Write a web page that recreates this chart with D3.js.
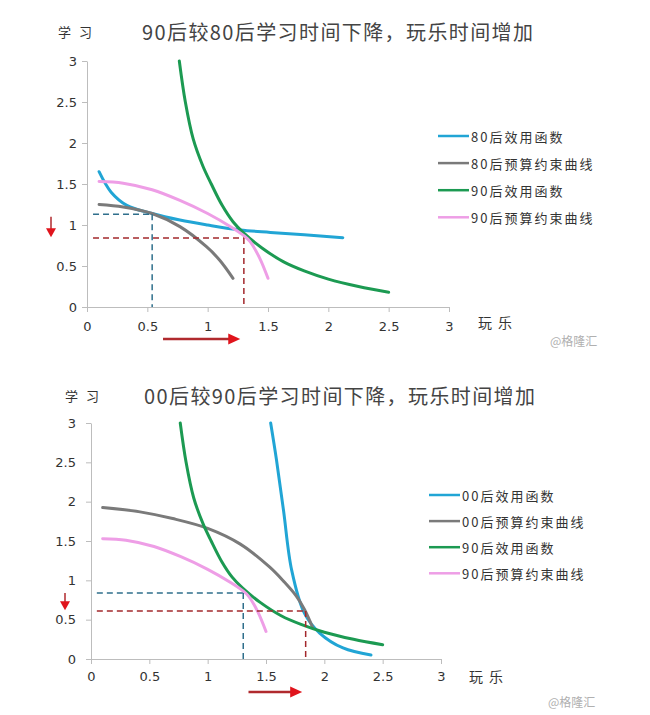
<!DOCTYPE html>
<html><head><meta charset="utf-8">
<script src="https://cdn.jsdelivr.net/npm/d3@7"></script>
<style>body{margin:0;background:#fff;} svg{display:block;}</style>
</head><body><svg id="c" width="650" height="715"></svg>
<script>
// ---------- data ----------
const xTicks = [0, 0.5, 1, 1.5, 2, 2.5, 3];
const yTicks = [0, 0.5, 1, 1.5, 2, 2.5, 3];
const titles = ["90后较80后学习时间下降，玩乐时间增加", "00后较90后学习时间下降，玩乐时间增加"];
const yLabel = "学习";
const xLabel = "玩乐";
const watermark = "@格隆汇";
const legend1 = ["80后效用函数", "80后预算约束曲线", "90后效用函数", "90后预算约束曲线"];
const legend2 = ["00后效用函数", "00后预算约束曲线", "90后效用函数", "90后预算约束曲线"];

const utility80 = [[0.1,1.65],[0.2,1.4],[0.33,1.24],[0.54,1.14],[0.77,1.06],[1.0,1.0],[1.27,0.94],[1.52,0.91],[1.8,0.88],[2.12,0.845]];
const budget80  = [[0.1,1.25],[0.3,1.22],[0.54,1.14],[0.77,0.98],[0.99,0.735],[1.1,0.57],[1.21,0.35]];
const utility90 = [[0.765,3.0],[0.815,2.5],[0.88,2.05],[0.96,1.72],[1.03,1.5],[1.12,1.24],[1.21,1.04],[1.3,0.9],[1.45,0.72],[1.63,0.55],[1.8,0.44],[2.0,0.34],[2.25,0.25],[2.5,0.18]];
const budget90  = [[0.1,1.53],[0.3,1.51],[0.54,1.43],[0.77,1.3],[1.0,1.14],[1.2,0.97],[1.3,0.87],[1.35,0.8],[1.43,0.6],[1.5,0.35]];
const utility00 = [[1.54,3.0],[1.59,2.53],[1.65,1.89],[1.72,1.13],[1.83,0.58],[1.96,0.33],[2.16,0.14],[2.4,0.05]];
const budget00  = [[0.1,1.925],[0.42,1.87],[0.7,1.785],[1.0,1.66],[1.28,1.46],[1.53,1.17],[1.65,0.99],[1.76,0.8],[1.83,0.63],[1.9,0.4]];

const guides1 = [{x:0.54, y:1.13}, {x:1.30, y:0.84}];
const guides2 = [{x:1.305, y:0.84}, {x:1.84, y:0.61}];
const shiftX1 = [0.63, 1.27], shiftY1 = [1.10, 0.85];
const shiftX2 = [1.35, 1.81], shiftY2 = [0.84, 0.62];

// ---------- styles ----------
const colors = ["#21a5d5", "#7a7a7a", "#1c9a52", "#ee9ee6"];
const guideColors = ["#2f6f8c", "#a3282c"];
const svg = d3.select("#c");
const cjk = "'Noto Sans CJK SC', 'Noto Sans', sans-serif";

function drawChart(cfg) {
  const x = d3.scaleLinear().domain([0, 3]).range(cfg.xr);
  const y = d3.scaleLinear().domain([0, 3]).range(cfg.yr);
  const g = svg.append("g");

  g.append("text").attr("x", cfg.titleX).attr("y", cfg.titleY).attr("dominant-baseline", "central")
    .attr("font-family", cjk).attr("font-size", 20).attr("letter-spacing", 1.4).attr("fill", "#444")
    .text(cfg.title);
  g.append("text").attr("x", cfg.yLabX).attr("y", cfg.titleY).attr("dominant-baseline", "central")
    .attr("font-family", cjk).attr("font-size", 13).attr("letter-spacing", 8).attr("fill", "#333")
    .text(yLabel);
  g.append("text").attr("x", cfg.xLabX).attr("y", cfg.xLabY).attr("dominant-baseline", "central")
    .attr("font-family", cjk).attr("font-size", 14).attr("letter-spacing", 6).attr("fill", "#333")
    .text(xLabel);
  g.append("text").attr("x", cfg.wmX).attr("y", cfg.wmY).attr("dominant-baseline", "central")
    .attr("font-family", cjk).attr("font-size", 12).attr("fill", "#b0b0b0")
    .text(watermark);

  const xa = g.append("g").attr("transform", `translate(0,${cfg.yr[0]})`)
    .call(d3.axisBottom(x).tickValues(xTicks).tickFormat(d => d).tickSize(5).tickSizeOuter(0).tickPadding(cfg.xPad));
  const ya = g.append("g").attr("transform", `translate(${cfg.xr[0]},0)`)
    .call(d3.axisLeft(y).tickValues(yTicks).tickFormat(d => d).tickSize(5).tickSizeOuter(0).tickPadding(cfg.yPad));
  [xa, ya].forEach(a => {
    a.select(".domain").attr("stroke", "#bdbdbd");
    a.selectAll(".tick line").attr("stroke", "#bdbdbd");
    a.selectAll(".tick text").attr("font-family", "'DejaVu Sans', sans-serif").attr("font-size", 13)
      .attr("fill", "#333");
  });

  const line = d3.line().x(d => x(d[0])).y(d => y(d[1])).curve(d3.curveCatmullRom.alpha(0.5));
  cfg.series.forEach((s, i) => {
    g.append("path").datum(s).attr("d", line).attr("fill", "none")
      .attr("stroke", colors[i]).attr("stroke-width", 3).attr("stroke-linecap", "round");
  });

  cfg.guides.forEach((p, i) => {
    const c = guideColors[i];
    g.append("line").attr("x1", x(0.05)).attr("x2", x(p.x)).attr("y1", y(p.y)).attr("y2", y(p.y))
      .attr("stroke", c).attr("stroke-width", 1.5).attr("stroke-dasharray", "6,4");
    g.append("line").attr("x1", x(p.x)).attr("x2", x(p.x)).attr("y1", y(p.y)).attr("y2", y(0))
      .attr("stroke", c).attr("stroke-width", 1.5).attr("stroke-dasharray", "6,4");
  });

  const ax0 = x(cfg.shiftX[0]), ax1 = x(cfg.shiftX[1]), ay = cfg.arrowY;
  g.append("line").attr("x1", ax0).attr("x2", ax1 - 10).attr("y1", ay).attr("y2", ay)
    .attr("stroke", "#b02a2e").attr("stroke-width", 2.5);
  g.append("path").attr("d", `M${ax1},${ay} L${ax1 - 12},${ay - 5.5} L${ax1 - 12},${ay + 5.5} Z`).attr("fill", "#e0141c");
  const dx = cfg.arrowX, dy0 = y(cfg.shiftY[0]), dy1 = y(cfg.shiftY[1]);
  g.append("line").attr("x1", dx).attr("x2", dx).attr("y1", dy0).attr("y2", dy1 - 8)
    .attr("stroke", "#b02a2e").attr("stroke-width", 1.5);
  g.append("path").attr("d", `M${dx},${dy1} L${dx - 5},${dy1 - 9} L${dx + 5},${dy1 - 9} Z`).attr("fill", "#e0141c");

  cfg.legend.forEach((t, i) => {
    const ly = cfg.legY + i * cfg.legGap;
    g.append("line").attr("x1", cfg.legX).attr("x2", cfg.legX + 31).attr("y1", ly).attr("y2", ly)
      .attr("stroke", colors[i]).attr("stroke-width", 2.5);
    g.append("text").attr("x", cfg.legX + 33).attr("y", ly).attr("dominant-baseline", "central")
      .attr("font-family", cjk).attr("font-size", 13).attr("letter-spacing", 2).attr("fill", "#333")
      .text(t);
  });
}

drawChart({
  xr: [87, 449], yr: [307, 61], title: titles[0], titleX: 142, titleY: 31, yLabX: 58,
  xLabX: 478, xLabY: 322, wmX: 550, wmY: 340, xPad: 10, yPad: 5,
  series: [utility80, budget80, utility90, budget90], guides: guides1,
  shiftX: shiftX1, shiftY: shiftY1, arrowY: 339, arrowX: 51,
  legend: legend1, legX: 438, legY: 136, legGap: 27.1
});
drawChart({
  xr: [91, 441], yr: [659, 423], title: titles[1], titleX: 144, titleY: 395, yLabX: 65,
  xLabX: 469, xLabY: 676, wmX: 548, wmY: 701, xPad: 8, yPad: 10,
  series: [utility00, budget00, utility90, budget90], guides: guides2,
  shiftX: shiftX2, shiftY: shiftY2, arrowY: 692, arrowX: 65,
  legend: legend2, legX: 429, legY: 495, legGap: 26.1
});
</script>
</body></html>
